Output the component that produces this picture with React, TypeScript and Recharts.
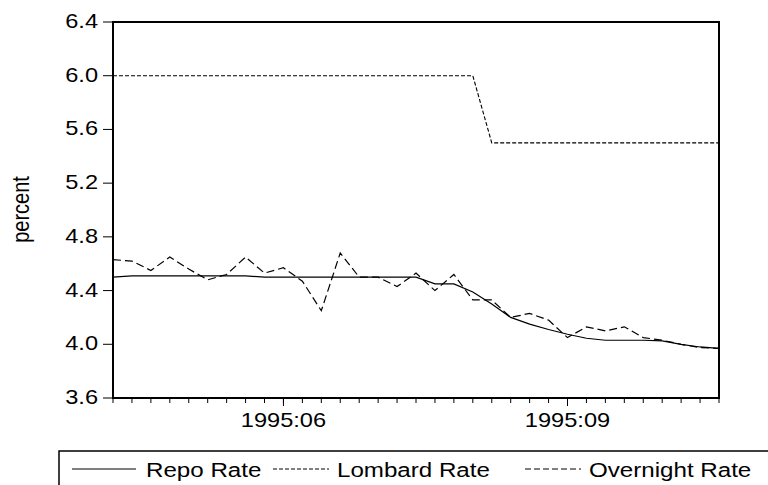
import { LineChart, Line, XAxis, YAxis, ReferenceArea } from "recharts";

// observation index along the x axis (one per tick)
const obs = Array.from({ length: 33 }, (_, i) => i);

const repoRate = [
  4.5, 4.51, 4.51, 4.51, 4.51, 4.51, 4.51, 4.51, 4.5, 4.5, 4.5, 4.5, 4.5, 4.5, 4.5, 4.5, 4.5,
  4.45, 4.45, 4.39, 4.3, 4.2, 4.15, 4.11, 4.075, 4.045, 4.03, 4.03, 4.03, 4.025, 4.0, 3.98, 3.97,
];

const lombardRate = [
  6.0, 6.0, 6.0, 6.0, 6.0, 6.0, 6.0, 6.0, 6.0, 6.0, 6.0, 6.0, 6.0, 6.0, 6.0, 6.0, 6.0, 6.0, 6.0, 6.0,
  5.5, 5.5, 5.5, 5.5, 5.5, 5.5, 5.5, 5.5, 5.5, 5.5, 5.5, 5.5, 5.5,
];

const overnightRate = [
  4.63, 4.62, 4.55, 4.65, 4.56, 4.48, 4.52, 4.65, 4.53, 4.57, 4.47, 4.25, 4.68, 4.5, 4.5, 4.43, 4.53,
  4.4, 4.52, 4.33, 4.33, 4.2, 4.23, 4.18, 4.05, 4.13, 4.1, 4.13, 4.05, 4.03, 4.0, 3.975, 3.97,
];

const labelIdx = [9, 24];
const labelText = ["1995:06", "1995:09"];
const yTicks = [3.6, 4.0, 4.4, 4.8, 5.2, 5.6, 6.0, 6.4];

const rows = obs.map((i) => ({
  i,
  repo: repoRate[i],
  lombard: lombardRate[i],
  overnight: overnightRate[i],
}));

const FONT = '"Liberation Sans", Arial, sans-serif';
const SX = 1.18; // the source picture is stretched sideways

function XTick(props: any) {
  const { x, y, payload } = props;
  const k = labelIdx.indexOf(payload.value);
  if (k < 0) return <g />;
  return (
    <g>
      <line x1={x} x2={x} y1={y - 5} y2={y + 3} stroke="#000" />
      <text
        transform={`translate(${x},${y + 24}) scale(${SX},1)`}
        textAnchor="middle"
        fontFamily={FONT}
        fontSize={20}
        fill="#000"
      >
        {labelText[k]}
      </text>
    </g>
  );
}

function YTick(props: any) {
  const { x, y, payload } = props;
  return (
    <text
      transform={`translate(${x},${y + 6}) scale(${SX},1)`}
      textAnchor="end"
      fontFamily={FONT}
      fontSize={20}
      fill="#000"
    >
      {Number(payload.value).toFixed(1)}
    </text>
  );
}

const legendItems = [
  { name: "Repo Rate", dash: undefined, x: 72 },
  { name: "Lombard Rate", dash: "4 2", x: 273 },
  { name: "Overnight Rate", dash: "6 3", x: 525 },
];

export default function App() {
  return (
    <div
      style={{
        position: "absolute",
        left: 0,
        top: 0,
        width: 768,
        height: 485,
        overflow: "hidden",
        background: "#fff",
      }}
    >
      <LineChart
        width={768}
        height={485}
        data={rows}
        margin={{ top: 22, right: 49, bottom: 47, left: 53 }}
      >
        <ReferenceArea
          x1={0}
          x2={32}
          y1={3.6}
          y2={6.4}
          fill="none"
          stroke="#000"
          strokeWidth={2}
          fillOpacity={0}
        />
        <XAxis
          dataKey="i"
          type="number"
          domain={[0, 32]}
          ticks={obs}
          interval={0}
          height={40}
          tickSize={5}
          tickMargin={0}
          axisLine={{ stroke: "#000", strokeWidth: 2 }}
          tickLine={{ stroke: "#000" }}
          tick={<XTick />}
        />
        <YAxis
          type="number"
          domain={[3.6, 6.4]}
          ticks={yTicks}
          interval={0}
          width={60}
          tickSize={10}
          tickMargin={5}
          axisLine={{ stroke: "#000", strokeWidth: 2 }}
          tickLine={{ stroke: "#000" }}
          tick={<YTick />}
        />
        <Line
          type="linear"
          dataKey="repo"
          stroke="#000"
          strokeWidth={1.2}
          dot={false}
          isAnimationActive={false}
        />
        <Line
          type="linear"
          dataKey="lombard"
          stroke="#000"
          strokeWidth={1.1}
          strokeDasharray="4 2"
          dot={false}
          isAnimationActive={false}
        />
        <Line
          type="linear"
          dataKey="overnight"
          stroke="#000"
          strokeWidth={1.2}
          strokeDasharray="8 4"
          dot={false}
          isAnimationActive={false}
        />
      </LineChart>
      <svg
        width={768}
        height={485}
        style={{ position: "absolute", left: 0, top: 0, pointerEvents: "none" }}
      >
        <text
          transform={`translate(29,209.5) scale(${SX},1) rotate(-90)`}
          textAnchor="middle"
          fontFamily={FONT}
          fontSize={20}
          fill="#000"
        >
          percent
        </text>
        <path d="M59 485 V451 H768" fill="none" stroke="#000" strokeWidth={1.5} />
        {legendItems.map((it) => (
          <g key={it.name}>
            <line
              x1={it.x}
              x2={it.x + (it.dash ? 56 : 64)}
              y1={469}
              y2={469}
              stroke="#000"
              strokeWidth={1.2}
              strokeDasharray={it.dash}
            />
            <text
              transform={`translate(${it.x + (it.dash ? 64 : 74)},476.5) scale(1.15,1)`}
              fontFamily={FONT}
              fontSize={21}
              fill="#000"
            >
              {it.name}
            </text>
          </g>
        ))}
      </svg>
    </div>
  );
}
